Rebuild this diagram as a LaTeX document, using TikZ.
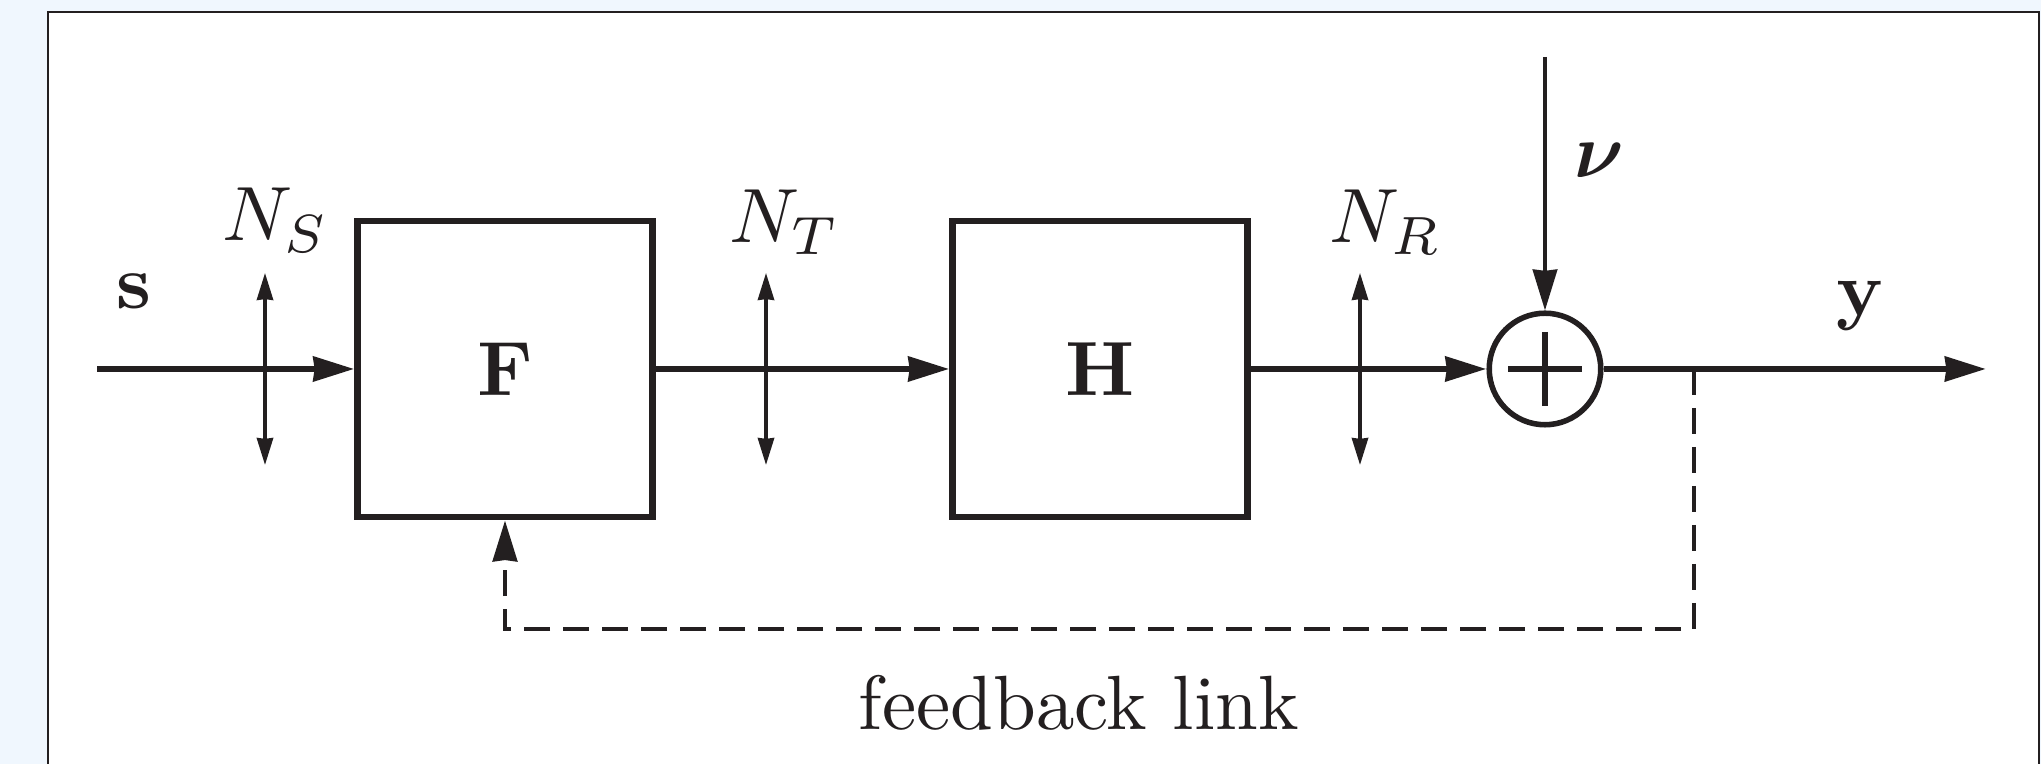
\documentclass[tikz,border=0pt]{standalone}
\usepackage{bm}
\usetikzlibrary{arrows.meta}
\definecolor{ink}{RGB}{35,31,32}
\definecolor{bgblue}{RGB}{240,247,254}
\begin{document}
\begin{tikzpicture}[x=0.13pt,y=-0.13pt,
  mainline/.style={draw=ink,line width=0.84pt},
  bigtip/.style={-{Stealth[length=5.3pt,width=3.15pt,inset=0.15pt]}},
  thinline/.style={draw=ink,line width=0.42pt,
    {Stealth[length=3.5pt,width=2.1pt,inset=0.1pt]}-{Stealth[length=3.5pt,width=2.1pt,inset=0.1pt]}},
  nuline/.style={draw=ink,line width=0.55pt},
  dashline/.style={draw=ink,line width=0.64pt,dash pattern=on 3.38pt off 1.69pt},
  blockbox/.style={draw=ink,line width=0.88pt,minimum width=38.3pt,minimum height=38.5pt,inner sep=0pt,text=ink},
  sumnode/.style={circle,draw=ink,line width=0.72pt,minimum size=14.5pt,inner sep=0pt},
  lbl/.style={inner sep=0pt,text=ink}
]
\useasboundingbox (0,0) rectangle (2041,764);
\fill[bgblue] (0,0) rectangle (2041,764);
\fill[white] (48,12) rectangle (2039,764);
\draw[ink,line width=0.33pt] (48,764) -- (48,12) -- (2039,12) -- (2039,764);

% blocks
\node[blockbox] (F) at (505,369) {$\mathbf{F}$};
\node[blockbox] (H) at (1100,369) {$\mathbf{H}$};
\node[sumnode] (sum) at (1545,369) {};
\draw[ink,line width=0.72pt] (sum.center) ++(-37,0) -- ++(74,0);
\draw[ink,line width=0.72pt] (sum.center) ++(0,-37) -- ++(0,74);

% coordinates
\coordinate (in) at (97,369);
\coordinate (out) at (1986,369);
\coordinate (nu) at (1545,57);
\coordinate (tap) at (1694,369);
\coordinate (fbR) at (1694,629);
\coordinate (fbL) at (505,629);
\coordinate (nsT) at (265,273);
\coordinate (nsB) at (265,465);
\coordinate (ntT) at (766,273);
\coordinate (ntB) at (766,465);
\coordinate (nrT) at (1360,273);
\coordinate (nrB) at (1360,465);

% main signal path
\draw[mainline,bigtip] (in) -- (F.west);
\draw[mainline,bigtip] (F.east) -- (H.west);
\draw[mainline,bigtip] (H.east) -- (sum.west);
\draw[mainline,bigtip] (sum.east) -- (out);
\draw[nuline,bigtip] (nu) -- (sum.north);

% noise arrows
\draw[thinline] (nsT) -- (nsB);
\draw[thinline] (ntT) -- (ntB);
\draw[thinline] (nrT) -- (nrB);

% feedback
\draw[dashline,bigtip] (tap) -- (fbR) -- (fbL) -- (F.south);

% labels
\node[lbl] (s) at (134,291) {$\mathbf{s}$};
\node[lbl,anchor=base west] (NS) at (221,241) {$N_S$};
\node[lbl,anchor=base west] (NT) at (728,243) {$N_T$};
\node[lbl,anchor=base west] (NR) at (1328,243) {$N_R$};
\node[lbl,anchor=base west] (nulbl) at (1573,178) {$\bm{\nu}$};
\node[lbl,anchor=base] (y) at (1860,316) {$\mathbf{y}$};
\node[lbl,anchor=base] (fb) at (1079,730) {feedback link};
\end{tikzpicture}
\end{document}
